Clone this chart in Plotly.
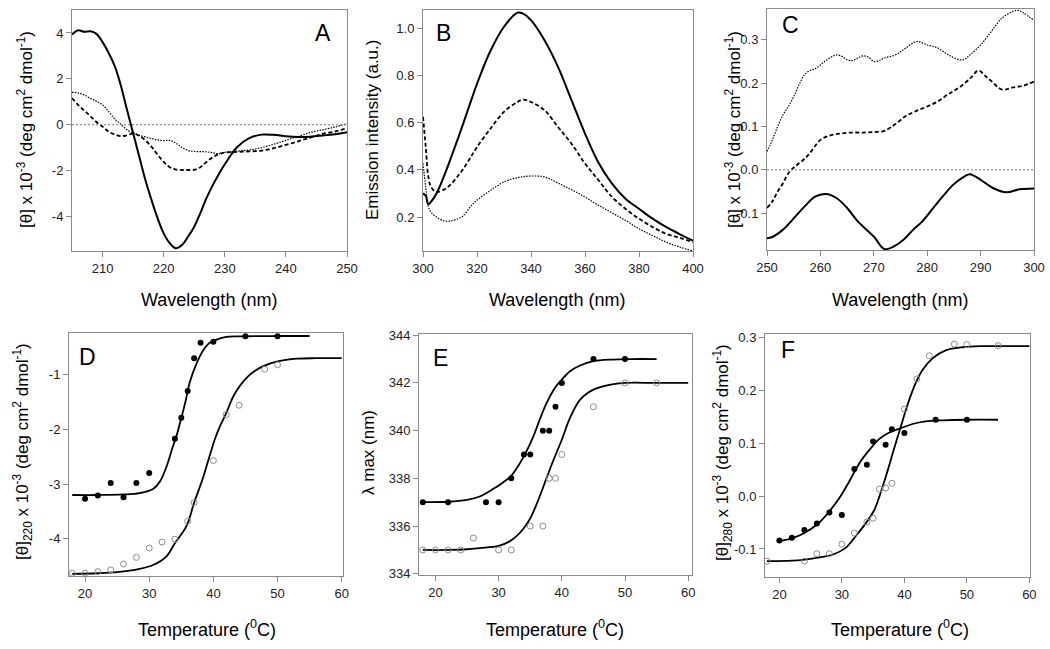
import plotly.graph_objects as go

# ---- Panel A: far-UV CD spectra ----
a_wl = [205, 206, 207, 208, 209, 210, 211, 212, 213, 214, 215, 216, 217, 218, 219, 220,
        221, 222, 223, 224, 225, 226, 227, 228, 229, 230, 232, 234, 236, 238, 240, 242,
        244, 246, 248, 250]
a_solid = [3.93, 4.12, 4.05, 4.07, 3.96, 3.60, 3.13, 2.55, 1.70, 0.65, -0.36, -1.38, -2.40,
           -3.27, -4.07, -4.73, -5.16, -5.38, -5.24, -4.87, -4.44, -3.85, -3.20, -2.65, -2.17,
           -1.72, -0.98, -0.58, -0.43, -0.44, -0.50, -0.53, -0.52, -0.47, -0.41, -0.32]
a_dash = [1.16, 0.87, 0.62, 0.38, 0.12, -0.08, -0.30, -0.42, -0.50, -0.46, -0.38, -0.48,
          -0.68, -0.95, -1.30, -1.62, -1.85, -1.95, -1.97, -1.97, -1.96, -1.85, -1.62, -1.42,
          -1.28, -1.21, -1.18, -1.16, -1.13, -1.02, -0.88, -0.72, -0.56, -0.40, -0.30, -0.15]
a_dot = [1.41, 1.39, 1.30, 1.15, 1.02, 0.87, 0.58, 0.25, 0.02, -0.22, -0.36, -0.46, -0.53,
         -0.60, -0.66, -0.69, -0.68, -0.80, -0.99, -1.12, -1.16, -1.17, -1.18, -1.22, -1.26,
         -1.20, -1.15, -1.10, -1.00, -0.85, -0.68, -0.51, -0.34, -0.22, -0.10, 0.04]

# ---- Panel B: fluorescence emission spectra ----
b_wl = [300, 301, 302, 303, 305, 308, 310, 313, 315, 318, 320, 325, 330, 335, 337, 340,
        345, 350, 355, 360, 365, 370, 375, 380, 385, 390, 395, 400]
b_solid = [0.30, 0.29, 0.254, 0.265, 0.30, 0.38, 0.44, 0.535, 0.60, 0.70, 0.765, 0.905, 1.007,
           1.067, 1.063, 1.035, 0.95, 0.837, 0.696, 0.554, 0.43, 0.342, 0.278, 0.235, 0.193,
           0.158, 0.128, 0.10]
b_dash = [0.625, 0.50, 0.37, 0.327, 0.306, 0.318, 0.335, 0.375, 0.405, 0.46, 0.497, 0.575,
          0.646, 0.688, 0.698, 0.688, 0.653, 0.582, 0.511, 0.427, 0.356, 0.285, 0.235, 0.193,
          0.158, 0.129, 0.112, 0.094]
b_dot = [0.427, 0.327, 0.243, 0.22, 0.20, 0.183, 0.183, 0.193, 0.207, 0.25, 0.271, 0.313,
         0.349, 0.367, 0.371, 0.374, 0.37, 0.344, 0.316, 0.285, 0.25, 0.218, 0.186, 0.15,
         0.122, 0.094, 0.073, 0.056]

# ---- Panel C: near-UV CD spectra ----
c_solid_wl = [250, 251, 253, 255, 257, 259, 261, 263, 265, 267, 270, 272, 274, 275.5, 277.4,
              279, 281, 283, 285, 287, 288, 290, 292.3, 294.8, 297.3, 300]
c_solid = [-0.158, -0.155, -0.138, -0.112, -0.085, -0.062, -0.056, -0.065, -0.088, -0.119,
           -0.154, -0.183, -0.175, -0.162, -0.138, -0.12, -0.09, -0.06, -0.033, -0.015, -0.01,
           -0.023, -0.042, -0.052, -0.045, -0.043]
c_dash_wl = [250, 251, 252, 253, 254, 255, 256, 257, 258, 260, 262, 264, 266, 268, 270, 272,
             274, 276, 278, 280, 282, 284, 286, 288, 289.6, 291, 292, 294, 296, 298, 300]
c_dash = [-0.088, -0.073, -0.05, -0.031, -0.008, 0.005, 0.015, 0.025, 0.038, 0.069, 0.08,
          0.084, 0.086, 0.086, 0.087, 0.09, 0.105, 0.124, 0.136, 0.146, 0.158, 0.175, 0.19,
          0.21, 0.229, 0.215, 0.205, 0.185, 0.19, 0.194, 0.204]
c_dot_wl = [250, 251, 252, 253, 254, 255, 256, 257, 258, 259, 260, 261, 262, 263, 264, 265,
            266, 267, 268, 269, 270, 271, 272, 274, 276, 278, 280, 282, 284, 286, 287, 288,
            290, 292, 294, 296, 297, 298, 300]
c_dot = [0.042, 0.069, 0.10, 0.127, 0.146, 0.169, 0.196, 0.219, 0.229, 0.233, 0.242, 0.252,
         0.26, 0.265, 0.262, 0.254, 0.252, 0.258, 0.263, 0.26, 0.25, 0.252, 0.258, 0.265, 0.281,
         0.296, 0.288, 0.281, 0.265, 0.254, 0.255, 0.265, 0.288, 0.319, 0.35, 0.365, 0.368,
         0.362, 0.345]

# ---- Panel D: [theta]220 vs temperature ----
d_fill_t = [20, 22, 24, 26, 28, 30, 34, 35, 36, 37, 38, 40, 45, 50]
d_fill = [-3.27, -3.21, -2.98, -3.24, -2.98, -2.80, -2.17, -1.79, -1.30, -0.70, -0.42, -0.40,
          -0.30, -0.30]
d_open_t = [18, 20, 22, 24, 26, 28, 30, 32, 34, 36, 37, 40, 42, 44, 48, 50]
d_open = [-4.63, -4.63, -4.60, -4.57, -4.46, -4.34, -4.17, -4.06, -4.01, -3.68, -3.34, -2.57,
          -1.73, -1.56, -0.90, -0.82]
d_fill_fit_t = [18, 22, 26, 28.5, 30.6, 31.7, 32.7, 33.7, 34.3, 35.0, 35.6, 36.3, 37.4, 38.4,
                39.4, 40.5, 42, 44, 50, 55]
d_fill_fit = [-3.20, -3.20, -3.19, -3.165, -3.09, -2.95, -2.68, -2.31, -2.10, -1.79, -1.52,
              -1.15, -0.79, -0.56, -0.42, -0.36, -0.31, -0.30, -0.295, -0.295]
d_open_fit_t = [18, 22, 25, 28.5, 30.6, 32.7, 34, 35.8, 37, 38.2, 39.2, 40.2, 41, 41.9, 43.1,
                44.1, 45.7, 47.7, 50, 53, 56, 60]
d_open_fit = [-4.64, -4.63, -4.61, -4.55, -4.48, -4.32, -4.08, -3.77, -3.34, -2.95, -2.57,
              -2.19, -1.95, -1.73, -1.40, -1.21, -1.00, -0.85, -0.76, -0.71, -0.70, -0.70]

# ---- Panel E: lambda max vs temperature ----
e_fill_t = [18, 22, 28, 30, 32, 34, 35, 37, 38, 39, 40, 45, 50]
e_fill = [337, 337, 337, 337, 338, 339, 339, 340, 340, 341, 342, 343, 343]
e_open_t = [18, 20, 22, 24, 26, 30, 32, 35, 37, 38, 39, 40, 45, 50, 55]
e_open = [335, 335, 335, 335, 335.5, 335, 335, 336, 336, 338, 338, 339, 341, 342, 342]
e_fill_fit_t = [18, 22, 25, 27, 29.1, 30.7, 31.9, 33.4, 34.4, 35.5, 36.5, 37.6, 38.9, 40,
                41.3, 42.9, 45, 48, 51, 55]
e_fill_fit = [337.0, 337.02, 337.1, 337.24, 337.55, 337.83, 338.08, 338.65, 339.13, 339.76,
              340.46, 341.16, 341.79, 342.14, 342.49, 342.73, 342.91, 342.98, 343.0, 343.0]
e_open_fit_t = [18, 22, 25, 27, 30, 31.75, 33.35, 34.95, 36.3, 37.6, 38.7, 40, 41.3, 42.9,
                45, 47.7, 50, 55, 60]
e_open_fit = [335.0, 335.0, 335.03, 335.08, 335.17, 335.36, 335.71, 336.30, 337.11, 338.02,
              338.78, 339.62, 340.53, 341.30, 341.72, 341.93, 342.0, 342.0, 342.0]

# ---- Panel F: [theta]280 vs temperature ----
f_fill_t = [20, 22, 24, 26, 28, 30, 32, 34, 35, 37, 38, 40, 45, 50]
f_fill = [-0.084, -0.079, -0.064, -0.052, -0.031, -0.036, 0.051, 0.059, 0.103, 0.097, 0.126,
          0.119, 0.144, 0.144]
f_open_t = [18, 24, 26, 28, 30, 32, 34, 35, 36, 37, 38, 40, 42, 44, 48, 50, 55]
f_open = [-0.123, -0.123, -0.109, -0.109, -0.091, -0.070, -0.049, -0.042, 0.013, 0.015,
          0.024, 0.164, 0.221, 0.265, 0.287, 0.286, 0.284]
f_fill_fit_t = [20, 22, 24, 26.4, 28, 29.6, 31.2, 32.8, 34.4, 36, 37.6, 39.4, 41.3, 43.4, 46.1,
                50, 55]
f_fill_fit = [-0.085, -0.080, -0.070, -0.050, -0.029, -0.004, 0.028, 0.062, 0.087, 0.108,
              0.120, 0.128, 0.136, 0.141, 0.143, 0.144, 0.144]
f_open_fit_t = [18, 22, 24, 26.4, 28.5, 30.6, 32.2, 34.1, 35.2, 36.2, 37.3, 38.4, 39.4, 40.5,
                41.8, 42.9, 44.5, 46.6, 49.3, 52.5, 56, 60]
f_open_fit = [-0.123, -0.122, -0.120, -0.116, -0.111, -0.098, -0.076, -0.047, -0.026, 0.006,
              0.047, 0.091, 0.130, 0.172, 0.213, 0.238, 0.260, 0.275, 0.281, 0.283, 0.283, 0.283]

# ---- tick values (labels written with a plain hyphen, as in the figure) ----
a_xticks = [210, 220, 230, 240, 250]
a_yticks = [-4, -2, 0, 2, 4]
b_xticks = [300, 320, 340, 360, 380, 400]
b_yticks = [0.2, 0.4, 0.6, 0.8, 1.0]
c_xticks = [250, 260, 270, 280, 290, 300]
c_yticks = [-0.1, 0.0, 0.1, 0.2, 0.3]
t_xticks = [20, 30, 40, 50, 60]
d_yticks = [-4, -3, -2, -1]
e_yticks = [334, 336, 338, 340, 342, 344]
f_yticks = [-0.1, 0.0, 0.1, 0.2, 0.3]

W, H = 1050, 649
FONT = "Arial, Liberation Sans, sans-serif"
AXIS_GRAY = "#8a8a8a"
OPEN_GRAY = "#8c8c8c"

SOLID = dict(color="black", width=2)
DASH = dict(color="black", width=1.8, dash="4px,2.5px")
DOT = dict(color="black", width=1.2, dash="1.5px,1.3px")
FIT = dict(color="black", width=1.8)

fig = go.Figure()


def line(x, y, ax, style):
    fig.add_trace(go.Scatter(x=x, y=y, mode="lines", line=dict(style, shape="spline"),
                             xaxis="x" + ax, yaxis="y" + ax, showlegend=False,
                             hoverinfo="skip"))


def pts(x, y, ax, filled):
    if filled:
        m = dict(symbol="circle", size=6, color="black")
    else:
        m = dict(symbol="circle-open", size=6, color=OPEN_GRAY, line=dict(width=1))
    fig.add_trace(go.Scatter(x=x, y=y, mode="markers", marker=m,
                             xaxis="x" + ax, yaxis="y" + ax, showlegend=False))


# A
line(a_wl, a_solid, "", SOLID)
line(a_wl, a_dash, "", DASH)
line(a_wl, a_dot, "", DOT)
# B
line(b_wl, b_solid, "2", SOLID)
line(b_wl, b_dash, "2", DASH)
line(b_wl, b_dot, "2", DOT)
# C
line(c_solid_wl, c_solid, "3", SOLID)
line(c_dash_wl, c_dash, "3", DASH)
line(c_dot_wl, c_dot, "3", DOT)
# D
line(d_fill_fit_t, d_fill_fit, "4", FIT)
line(d_open_fit_t, d_open_fit, "4", FIT)
pts(d_fill_t, d_fill, "4", True)
pts(d_open_t, d_open, "4", False)
# E
line(e_fill_fit_t, e_fill_fit, "5", FIT)
line(e_open_fit_t, e_open_fit, "5", FIT)
pts(e_fill_t, e_fill, "5", True)
pts(e_open_t, e_open, "5", False)
# F
line(f_fill_fit_t, f_fill_fit, "6", FIT)
line(f_open_fit_t, f_open_fit, "6", FIT)
pts(f_fill_t, f_fill, "6", True)
pts(f_open_t, f_open, "6", False)

tick_font = dict(family=FONT, size=13, color="#222")


def labels(vals, fmt):
    return [format(v, fmt) for v in vals]


def axis(dom, rng, vals, fmt, anchor):
    return dict(domain=dom, range=rng, tickvals=vals, ticktext=labels(vals, fmt),
                anchor=anchor, automargin=False,
                showline=True, linecolor=AXIS_GRAY, linewidth=1, mirror=True,
                ticks="outside", ticklen=5, tickcolor=AXIS_GRAY, showgrid=False,
                zeroline=False, tickfont=tick_font)


# panel boxes in pixels: (left, right, top, bottom)
panels = {
    "": dict(box=(72, 347, 10, 251), xr=[205, 250], yr=[-5.5, 5.0],
             xt=a_xticks, yt=a_yticks, yf="g"),
    "2": dict(box=(423, 693, 10, 251), xr=[300, 400], yr=[0.056, 1.078],
              xt=b_xticks, yt=b_yticks, yf=".1f"),
    "3": dict(box=(767, 1034, 9, 250), xr=[250, 300], yr=[-0.185, 0.371],
              xt=c_xticks, yt=c_yticks, yf=".1f"),
    "4": dict(box=(69, 343, 333, 576), xr=[17.5, 60.2], yr=[-4.68, -0.24],
              xt=t_xticks, yt=d_yticks, yf="g"),
    "5": dict(box=(419, 692, 334, 575), xr=[17.4, 60.6], yr=[333.95, 344.05],
              xt=t_xticks, yt=e_yticks, yf="g"),
    "6": dict(box=(765, 1030, 334, 577), xr=[17.7, 60.1], yr=[-0.153, 0.306],
              xt=t_xticks, yt=f_yticks, yf=".1f"),
}

layout_axes = {}
for k, p in panels.items():
    l, r, t, b = p["box"]
    layout_axes["xaxis" + k] = axis([l / W, r / W], p["xr"], p["xt"], "g", "y" + k)
    layout_axes["yaxis" + k] = axis([1 - b / H, 1 - t / H], p["yr"], p["yt"], p["yf"], "x" + k)
fig.update_layout(**layout_axes)

# zero reference lines for the CD spectra
for k in ["", "3"]:
    fig.add_shape(type="line", xref="x" + k + " domain", yref="y" + k, x0=0, x1=1, y0=0, y1=0,
                  line=dict(color="#777", width=1, dash="2px,2px"))

theta_lbl = "[\u03b8] x 10<sup>-3</sup> (deg cm<sup>2</sup> dmol<sup>-1</sup>)"
y_titles = [
    (theta_lbl, 25, 130),
    ("Emission intensity (a.u.)", 372, 130),
    (theta_lbl, 733, 130),
    ("[\u03b8]<sub>220</sub> x 10<sup>-3</sup> (deg cm<sup>2</sup> dmol<sup>-1</sup>)", 22, 452),
    ("\u03bb max (nm)", 368, 453),
    ("[\u03b8]<sub>280</sub> x 10<sup>-3</sup> (deg cm<sup>2</sup> dmol<sup>-1</sup>)", 722, 453),
]
x_titles = [
    ("Wavelength (nm)", 209, 300),
    ("Wavelength (nm)", 557, 300),
    ("Wavelength (nm)", 900, 300),
    ("Temperature (<sup>0</sup>C)", 207, 628),
    ("Temperature (<sup>0</sup>C)", 555, 628),
    ("Temperature (<sup>0</sup>C)", 900, 628),
]
letters = [("A", 323, 33), ("B", 443, 33), ("C", 790, 25),
           ("D", 87, 357), ("E", 440, 358), ("F", 788, 350)]

for txt, x, y in y_titles:
    fig.add_annotation(text=txt, x=x / W, y=1 - y / H, xref="paper", yref="paper",
                       showarrow=False, textangle=-90, xanchor="center", yanchor="middle",
                       font=dict(family=FONT, size=17, color="black"))
for txt, x, y in x_titles:
    fig.add_annotation(text=txt, x=x / W, y=1 - y / H, xref="paper", yref="paper",
                       showarrow=False, xanchor="center", yanchor="middle",
                       font=dict(family=FONT, size=18, color="black"))
for txt, x, y in letters:
    fig.add_annotation(text=txt, x=x / W, y=1 - y / H, xref="paper", yref="paper",
                       showarrow=False, xanchor="center", yanchor="middle",
                       font=dict(family=FONT, size=23, color="black"))

fig.update_layout(
    width=W, height=H,
    margin=dict(l=0, r=0, t=0, b=0),
    paper_bgcolor="white", plot_bgcolor="white",
    showlegend=False,
)

# drop the page's default body margin so the figure sits at the window's corner
fig.write_html("out.html", config={"displayModeBar": False},
               post_script="document.body.style.margin = '0';")
